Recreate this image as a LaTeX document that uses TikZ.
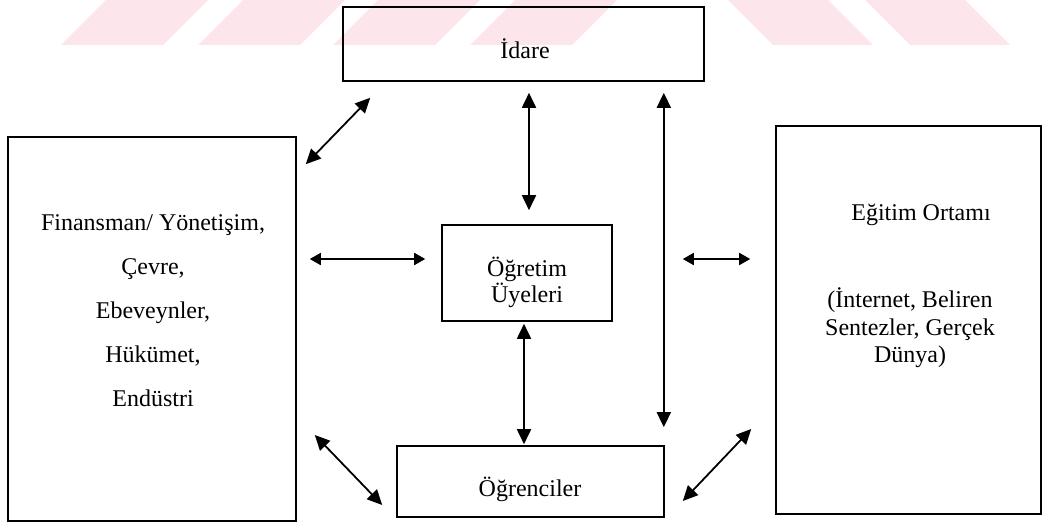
\documentclass[tikz,border=0pt]{standalone}
\usepackage{fontspec}
\setmainfont{Liberation Serif}
\usetikzlibrary{arrows.meta}
\definecolor{stripepink}{RGB}{252,230,235}
\tikzset{
  box/.style={draw, line width=1.6pt, inner sep=0pt},
  txt/.style={inner sep=0pt, align=center, font=\fontsize{24}{27.5}\selectfont},
  dbl/.style={line width=1.8pt, {Triangle[length=15pt,width=14pt]}-{Triangle[length=15pt,width=14pt]}},
  dblsmall/.style={line width=1.8pt, {Triangle[length=11pt,width=12pt]}-{Triangle[length=11pt,width=12pt]}}
}
\begin{document}
\begin{tikzpicture}[x=1pt,y=-1pt]
\useasboundingbox (0,0) rectangle (1043,524);
% faint diagonal bands along the top edge
\foreach \a in {61,198,333,470}
  \fill[stripepink] (\a,45) -- (\a+102,45) -- (\a+147,0) -- (\a+45,0) -- cycle;
\foreach \a in {773,910}
  \fill[stripepink] (\a,45) -- (\a+100,45) -- (\a+55,0) -- (\a-45,0) -- cycle;

% boxes
\node[box, minimum width=361pt, minimum height=74pt] (idare) at (523.5,44) {};
\node[box, minimum width=288pt, minimum height=384pt] (leftbox) at (152,329) {};
\node[box, minimum width=265pt, minimum height=388pt] (rightbox) at (908.5,320) {};
\node[box, minimum width=170pt, minimum height=96pt] (ogretim) at (527,273) {};
\node[box, minimum width=267pt, minimum height=71pt] (ogrenciler) at (530.5,481.5) {};

% texts
\node[txt] (idaretxt) at (525,49) {İdare};
\node[txt, font=\fontsize{24}{44}\selectfont] (lefttxt) at (153,311)
  {Finansman/ Yönetişim,\\Çevre,\\Ebeveynler,\\Hükümet,\\Endüstri};
\node[txt] (ortamtxt) at (921,215) {Eğitim Ortamı};
\node[txt] (ortamdetay) at (910,328) {(İnternet, Beliren\\Sentezler, Gerçek\\Dünya)};
\node[txt, font=\fontsize{24}{26}\selectfont] (ogretimtxt) at (527,282) {Öğretim\\Üyeleri};
\node[txt] (ogrencilertxt) at (530,489) {Öğrenciler};

% connectors
\draw[dbl] ([shift={(28,16)}]idare.south west) -- ([shift={(9,28)}]leftbox.north east);
\draw[dbl] ([shift={(5.5,11)}]idare.south) -- ([shift={(2,-14)}]ogretim.north);
\draw[dbl] ([shift={(-41,11)}]idare.south east) -- ([shift={(-1,-18)}]ogrenciler.north east);
\draw[dbl] ([shift={(-3,2)}]ogretim.south) -- ([shift={(-6.5,-1)}]ogrenciler.north);
\draw[dblsmall] ([shift={(13,-70)}]leftbox.east) -- ([shift={(-16,-14)}]ogretim.west);
\draw[dblsmall] ([shift={(70,-14)}]ogretim.east) -- ([shift={(-25,-61)}]rightbox.west);
\draw[dbl] ([shift={(18,106)}]leftbox.east) -- ([shift={(-14,23.5)}]ogrenciler.west);
\draw[dbl] ([shift={(18,19.5)}]ogrenciler.east) -- ([shift={(-24,109)}]rightbox.west);
\end{tikzpicture}
\end{document}
